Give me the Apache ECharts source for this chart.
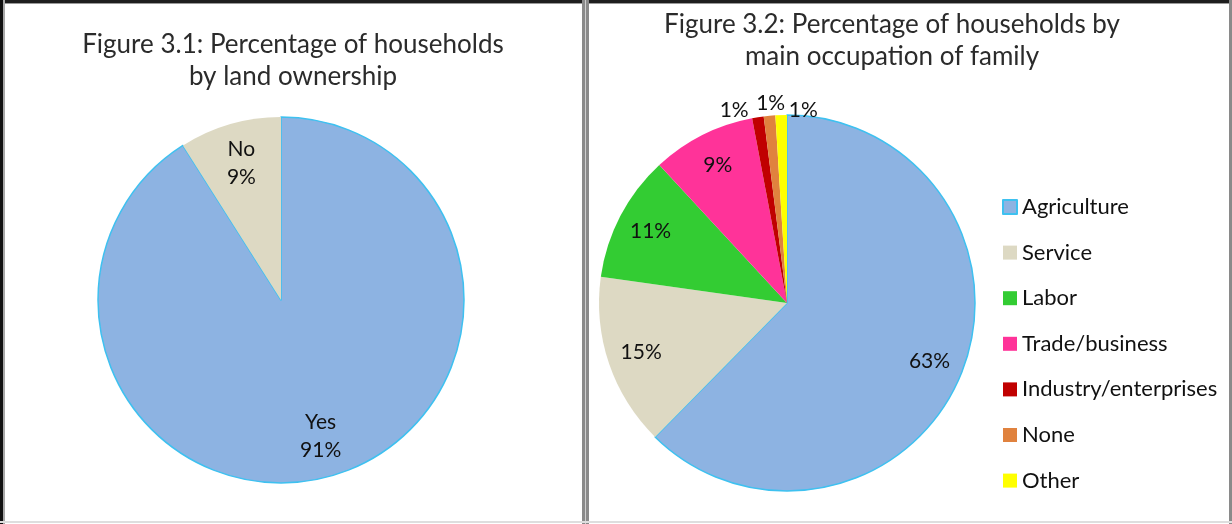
<!DOCTYPE html>
<html>
<head>
<meta charset="utf-8">
<title>Household land ownership and main occupation</title>
<script src="https://cdn.jsdelivr.net/npm/echarts@6/dist/echarts.min.js"></script>
<style>
  html, body { margin: 0; padding: 0; background: #ffffff; }
  #chart { width: 1232px; height: 524px; }
</style>
</head>
<body>
<div id="chart"></div>
<script>
// Figure 3.1: land ownership
var ownershipCategories = ['Yes', 'No'];
var ownershipValues = [91, 9];

// Figure 3.2: main occupation of family
var occupationCategories = ['Agriculture', 'Service', 'Labor', 'Trade/business',
  'Industry/enterprises', 'None', 'Other'];
var occupationValues = [63, 15, 11, 9, 1, 1, 1];

// Styling
var ownershipColors = ['#8db3e2', '#ddd9c3'];
var occupationColors = ['#8db3e2', '#ddd9c3', '#33cc33', '#ff3399', '#c00000', '#e0823e', '#ffff00'];
var outlineColor = '#3ec1f0';
var fontFamily = 'Lato, "Open Sans", sans-serif';

// label nudges for the thin slices, which are labelled outside the rim
var occupationLabelOffsets = [null, null, null, null, [-29, -41], [-2, -46], [21, -39]];

var leftCenter = [281, 300], leftR = 183;
var rightCenter = [787, 303], rightR = 188;

function sliceData(names, values, colors, outlinedIndex) {
  return names.map(function (n, i) {
    var item = { name: n, value: values[i], itemStyle: { color: colors[i] } };
    if (i === outlinedIndex) {
      item.itemStyle.borderColor = outlineColor;
      item.itemStyle.borderWidth = 1.5;
    } else {
      item.itemStyle.borderWidth = 0;
    }
    return item;
  });
}

function labelData(names, values, offsets) {
  return names.map(function (n, i) {
    var item = { name: n, value: values[i] };
    if (offsets && offsets[i]) {
      item.label = { offset: offsets[i] };
    }
    return item;
  });
}

var labelStyle = {
  show: true,
  position: 'inside',
  color: '#111111',
  fontFamily: fontFamily,
  fontSize: 21,
  lineHeight: 28
};

var chart = echarts.init(document.getElementById('chart'), null, { renderer: 'canvas' });

chart.setOption({
  backgroundColor: '#ffffff',
  animation: false,
  legend: {
    orient: 'vertical',
    left: 1002,
    top: 196,
    padding: 0,
    icon: 'rect',
    itemWidth: 14,
    itemHeight: 14,
    itemGap: 23.6,
    itemTextGap: 5,
    selectedMode: false,
    data: occupationCategories,
    textStyle: { fontFamily: fontFamily, fontSize: 22, lineHeight: 22, color: '#111111' }
  },
  graphic: [
    // panel frame
    { type: 'rect', shape: { x: 0, y: 0, width: 1232, height: 3 }, style: { fill: '#1e1e1e' }, silent: true },
    { type: 'rect', shape: { x: 0, y: 3, width: 1232, height: 1 }, style: { fill: '#9a9a9a' }, silent: true },
    { type: 'rect', shape: { x: 0, y: 0, width: 3, height: 524 }, style: { fill: '#111111' }, silent: true },
    { type: 'rect', shape: { x: 3, y: 0, width: 2, height: 524 }, style: { fill: '#a8a8a8' }, silent: true },
    { type: 'rect', shape: { x: 582, y: 0, width: 7, height: 524 }, style: { fill: '#8a8a8a' }, silent: true },
    { type: 'rect', shape: { x: 585, y: 0, width: 1, height: 524 }, style: { fill: '#cfcfcf' }, silent: true },
    { type: 'rect', shape: { x: 1229, y: 0, width: 3, height: 524 }, style: { fill: '#8a8a8a' }, silent: true },
    { type: 'rect', shape: { x: 0, y: 521, width: 1232, height: 2 }, style: { fill: '#dedede' }, silent: true },
    // titles
    {
      type: 'text', x: 293, y: 29,
      style: {
        text: 'Figure 3.1: Percentage of households\nby land ownership',
        align: 'center', verticalAlign: 'top',
        fontFamily: fontFamily, fontSize: 26, lineHeight: 32, fill: '#2b2b2b'
      }
    },
    {
      type: 'text', x: 892, y: 9,
      style: {
        text: 'Figure 3.2: Percentage of households by\nmain occupation of family',
        align: 'center', verticalAlign: 'top',
        fontFamily: fontFamily, fontSize: 26, lineHeight: 32, fill: '#2b2b2b'
      }
    }
  ],
  series: [
    {
      name: 'Land ownership',
      type: 'pie',
      center: leftCenter,
      radius: [0, leftR],
      startAngle: 90,
      clockwise: true,
      label: { show: false },
      labelLine: { show: false },
      emphasis: { disabled: true },
      data: sliceData(ownershipCategories, ownershipValues, ownershipColors, 0)
    },
    {
      name: 'Main occupation',
      type: 'pie',
      center: rightCenter,
      radius: [0, rightR],
      startAngle: 90,
      clockwise: true,
      label: { show: false },
      labelLine: { show: false },
      emphasis: { disabled: true },
      data: sliceData(occupationCategories, occupationValues, occupationColors, 0)
    },
    // transparent rings carrying the slice labels
    {
      name: 'Land ownership labels',
      type: 'pie',
      center: leftCenter,
      radius: [95, leftR],
      startAngle: 90,
      clockwise: true,
      silent: true,
      legendHoverLink: false,
      avoidLabelOverlap: false,
      itemStyle: { color: 'rgba(0,0,0,0)', borderWidth: 0 },
      label: Object.assign({}, labelStyle, { formatter: '{b}\n{c}%' }),
      labelLine: { show: false },
      emphasis: { disabled: true },
      data: labelData(ownershipCategories, ownershipValues, null)
    },
    {
      name: 'Main occupation labels',
      type: 'pie',
      center: rightCenter,
      radius: [114, rightR],
      startAngle: 90,
      clockwise: true,
      silent: true,
      legendHoverLink: false,
      avoidLabelOverlap: false,
      itemStyle: { color: 'rgba(0,0,0,0)', borderWidth: 0 },
      label: Object.assign({}, labelStyle, { formatter: '{c}%' }),
      labelLine: { show: false },
      emphasis: { disabled: true },
      data: labelData(occupationCategories, occupationValues, occupationLabelOffsets)
    }
  ]
});
</script>
</body>
</html>
